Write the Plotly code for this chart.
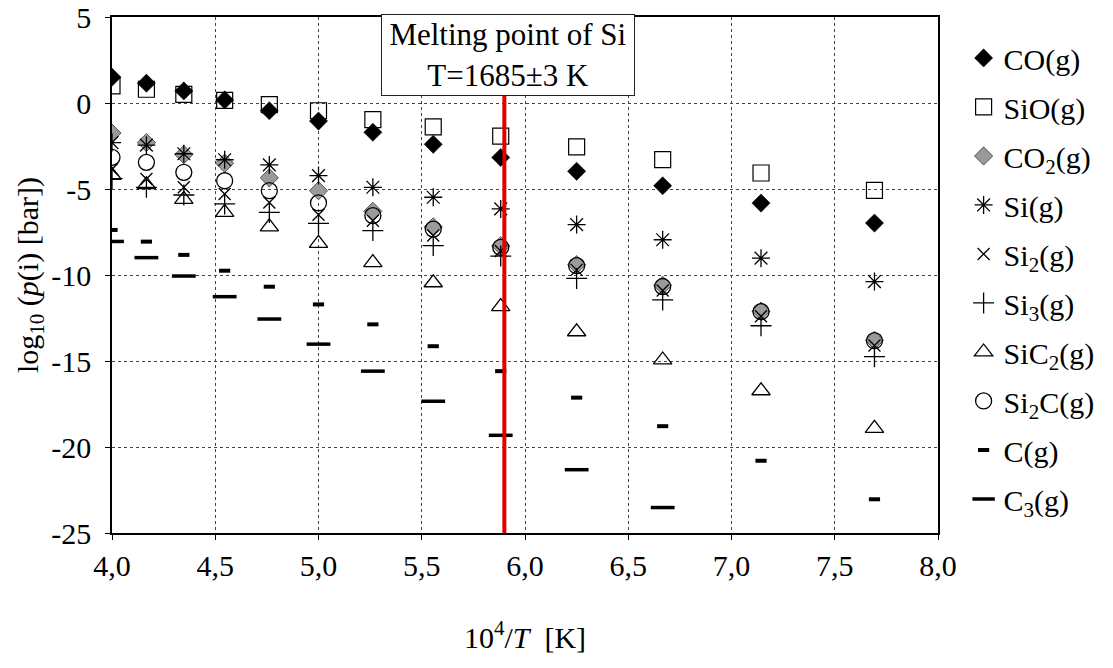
import plotly.graph_objects as go

# ---- data ----
x_vals = [4.0, 4.1667, 4.3478, 4.5455, 4.7619, 5.0, 5.2632, 5.5556, 5.8824, 6.25, 6.6667, 7.1429, 7.6923]
co = [1.5, 1.15, 0.7, 0.18, -0.45, -1.05, -1.7, -2.4, -3.17, -3.97, -4.81, -5.82, -6.98]
sio = [1.0, 0.8, 0.5, 0.15, -0.1, -0.45, -0.97, -1.39, -1.93, -2.55, -3.29, -4.07, -5.08]
co2 = [-1.75, -2.3, -3.0, -3.5, -4.35, -5.1, -6.3, -7.2, -8.3, -9.4, -10.6, -12.1, -13.8]
si = [-2.3, -2.45, -2.95, -3.3, -3.6, -4.22, -4.9, -5.48, -6.16, -7.07, -7.95, -9.02, -10.38]
si2 = [-3.85, -4.42, -4.9, -5.29, -5.78, -6.5, -6.85, -7.7, -8.6, -9.7, -10.9, -12.4, -14.1]
si3 = [-4.4, -4.9, -5.35, -5.87, -6.36, -7.0, -7.42, -8.29, -8.9, -10.2, -11.45, -12.95, -14.75]
sic2 = [-4.2, -4.75, -5.6, -6.36, -7.2, -8.16, -9.28, -10.45, -11.84, -13.3, -14.94, -16.73, -18.92]
si2c = [-3.16, -3.45, -4.03, -4.52, -5.1, -5.81, -6.55, -7.33, -8.39, -9.46, -10.67, -12.13, -13.82]
c_g = [-7.38, -8.06, -8.83, -9.75, -10.68, -11.71, -12.87, -14.14, -15.59, -17.13, -18.79, -20.8, -23.04]
c3 = [-8.05, -8.99, -10.06, -11.26, -12.56, -14.02, -15.59, -17.34, -19.32, -21.32, -23.52]

x_ticks = [4.0, 4.5, 5.0, 5.5, 6.0, 6.5, 7.0, 7.5, 8.0]
x_tick_text = ["4,0", "4,5", "5,0", "5,5", "6,0", "6,5", "7,0", "7,5", "8,0"]
y_ticks = [5, 0, -5, -10, -15, -20, -25]
y_tick_text = ["5", "0", "-5", "-10", "-15", "-20", "-25"]
melting_x = 5.9

FONT = "Liberation Serif"
FS = 30

fig = go.Figure()

def add(name, xs, ys, symbol, size, color="black", lw=1.2, lc="black"):
    fig.add_trace(go.Scatter(
        x=xs, y=ys, mode="markers", name=name, legendgroup=name,
        marker=dict(symbol=symbol, size=size, color=color,
                    line=dict(color=lc, width=lw)),
    ))

add("CO(g)", x_vals, co, "diamond", 14, color="black", lw=0.5)
add("SiO(g)", x_vals, sio, "square-open", 16, lw=1.2)
add("CO<sub>2</sub>(g)", x_vals, co2, "diamond", 14, color="#9a9a9a", lw=1, lc="#555555")
add("Si(g)", x_vals, si, "asterisk-open", 15, lw=1.3)
add("Si<sub>2</sub>(g)", x_vals, si2, "x-thin-open", 12, lw=1.3)
add("Si<sub>3</sub>(g)", x_vals, si3, "cross-thin-open", 15, lw=1.3)
add("SiC<sub>2</sub>(g)", x_vals, sic2, "triangle-up-open", 16, lw=1.3)
add("Si<sub>2</sub>C(g)", x_vals, si2c, "circle-open", 16, lw=1.3)
add("C(g)", x_vals, c_g, "line-ew", 8, lw=4)
add("C<sub>3</sub>(g)", x_vals[:len(c3)], c3, "line-ew", 17, lw=3.5)

fig.add_shape(type="line", xref="x", yref="y", x0=melting_x, x1=melting_x,
              y0=-25, y1=2, line=dict(color="#e00000", width=4), layer="above")

fig.add_annotation(xref="x", yref="paper", x=5.918, y=0.926, yanchor="middle",
                   xanchor="center",
                   text="Melting point of Si<br>T=1685±3 K", showarrow=False,
                   font=dict(family=FONT, size=31, color="black"),
                   bgcolor="white", bordercolor="#222", borderwidth=1,
                   width=250, height=78, align="center")

axis_common = dict(showline=True, mirror=True, linecolor="black", linewidth=1.5,
                   ticks="outside", ticklen=5, tickcolor="black",
                   showgrid=True, gridcolor="#444", griddash="dot", gridwidth=1,
                   zeroline=False, automargin=False,
                   tickfont=dict(family=FONT, size=FS, color="black"))

fig.update_layout(
    width=1113, height=668,
    margin=dict(l=112, r=175, t=17, b=135),
    paper_bgcolor="white", plot_bgcolor="white",
    font=dict(family=FONT, size=FS, color="black"),
    showlegend=True,
    legend=dict(x=1.031, y=0.971, xanchor="left", yanchor="top",
                font=dict(family=FONT, size=FS, color="black"),
                tracegroupgap=7, bgcolor="rgba(0,0,0,0)"),
    xaxis=dict(range=[4.0, 8.0], tickvals=x_ticks, ticktext=x_tick_text,
               title=dict(text="10<sup>4</sup>/<i>T</i>  [K]", standoff=46,
                          font=dict(family=FONT, size=FS)),
               **axis_common),
    yaxis=dict(range=[-25, 5], tickvals=y_ticks, ticktext=y_tick_text,
               ticklabelstandoff=8,
               title=dict(text="log<sub>10</sub> (<i>p</i>(i) [bar])", standoff=4,
                          font=dict(family=FONT, size=FS)),
               **axis_common),
)

fig.write_html("out.html", config={"displayModeBar": False},
               post_script="document.body.style.margin='0';")
